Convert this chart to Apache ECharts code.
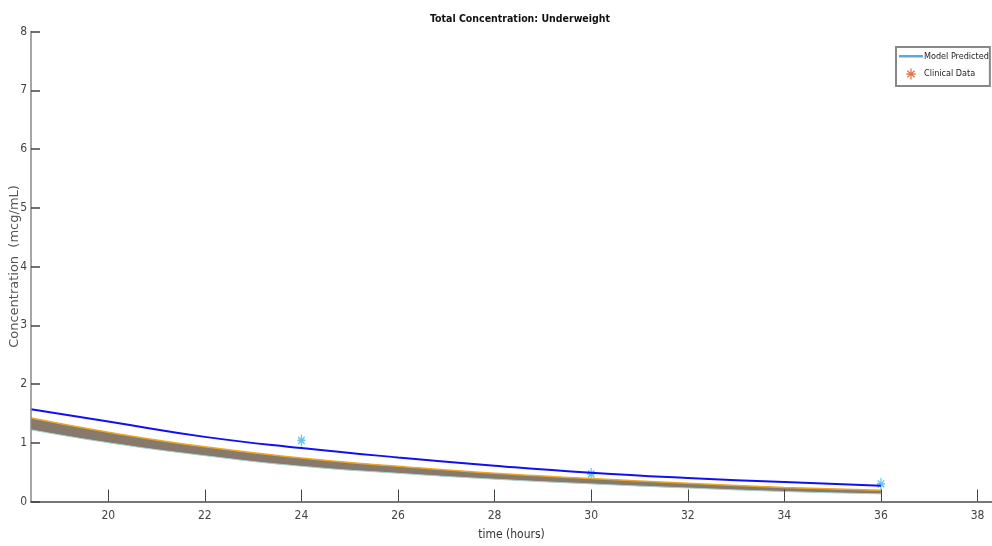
<!DOCTYPE html>
<html>
<head>
<meta charset="utf-8">
<script src="https://cdn.jsdelivr.net/npm/echarts@6/dist/echarts.min.js"></script>
<style>
  html, body { margin: 0; padding: 0; background: #fff; }
  #chart { width: 992px; height: 546px; }
</style>
</head>
<body>
<div id="chart"></div>
<script>
// time points (hours) for the model curves
const timeHours = [18.4, 20, 22, 24, 26, 28, 30, 32, 34, 36];
// blue model prediction line
const modelPredicted = [1.57, 1.36, 1.10, 0.91, 0.75, 0.61, 0.49, 0.40, 0.33, 0.27];
// the thick multicoloured band of simulated curves (upper / lower edge)
const bandHigh = [1.42, 1.18, 0.93, 0.74, 0.60, 0.48, 0.39, 0.31, 0.24, 0.19];
const bandLow = [1.22, 1.00, 0.78, 0.60, 0.48, 0.38, 0.30, 0.23, 0.17, 0.13];
// clinical measurements
const clinicalTime = [24, 30, 36];
const clinicalConc = [1.04, 0.47, 0.30];
// tick labels
const xTicks = [20, 22, 24, 26, 28, 30, 32, 34, 36, 38];

const pair = (xs, ys) => xs.map((x, i) => [x, ys[i]]);
const asterisk = "path://M5,0L5,12M0,6L10,6M1,2.5L9,9.5M9,2.5L1,9.5";
const lineIcon = "path://M0,0M0,4L24,4L24,6.5L0,6.5ZM24,11";
const narrow = "DejaVu Sans Condensed";

const chart = echarts.init(document.getElementById("chart"));
chart.setOption({
  animation: false,
  title: {
    text: "Total Concentration: Underweight",
    left: 515, top: 9, textAlign: "center",
    textStyle: { fontFamily: narrow, fontWeight: "bold", fontSize: 10.5, color: "#111" }
  },
  legend: {
    orient: "vertical",
    left: 896, top: 47,
    padding: [4, 1, 4, 3],
    itemGap: 4,
    itemWidth: 24, itemHeight: 11,
    borderColor: "#888", borderWidth: 2,
    textStyle: { fontFamily: narrow, fontSize: 9, color: "#222", padding: [0, 0, 0, -4] },
    data: [
      { name: "Model Predicted", icon: lineIcon, itemStyle: { color: "#5aa8de" } },
      { name: "Clinical Data", icon: asterisk,
        itemStyle: { color: "none", borderColor: "#e8501e", borderWidth: 1.3 } }
    ]
  },
  grid: { left: 31, right: 0, top: 31.5, bottom: 44.5, outerBoundsMode: "none" },
  xAxis: {
    type: "value", min: 18.4, max: 38.3, z: 10,
    name: "time (hours)", nameLocation: "middle", nameGap: 27, nameMoveOverlap: false,
    nameTextStyle: { fontFamily: narrow, fontSize: 12, color: "#333" },
    axisLine: { lineStyle: { color: "#777", width: 2 } },
    axisTick: { inside: true, length: 12, customValues: xTicks, lineStyle: { color: "#444", width: 1 } },
    axisLabel: { customValues: xTicks, fontFamily: narrow, fontSize: 12, color: "#444", margin: 8 },
    splitLine: { show: false }
  },
  yAxis: {
    type: "value", min: 0, max: 8, interval: 1, z: 10,
    name: "Concentration  (mcg/mL)", nameLocation: "middle", nameGap: 10, nameMoveOverlap: false,
    nameTextStyle: { fontFamily: "DejaVu Sans", fontSize: 13, color: "#555" },
    axisLine: { show: true, lineStyle: { color: "#888", width: 1.5 } },
    axisTick: { show: true, inside: true, length: 9, lineStyle: { color: "#444", width: 1.5 } },
    axisLabel: { fontFamily: narrow, fontSize: 12, color: "#444", margin: 4 },
    splitLine: { show: false }
  },
  series: [
    {
      name: "bandTop", type: "line", symbol: "none", silent: true, smooth: true,
      data: pair(timeHours, bandHigh),
      lineStyle: { color: "#eaa624", width: 1.5 },
      areaStyle: { color: "#87796c", opacity: 1 }
    },
    {
      name: "bandBottom", type: "line", symbol: "none", silent: true, smooth: true,
      data: pair(timeHours, bandLow),
      lineStyle: { color: "#a9d4cf", width: 1 },
      areaStyle: { color: "#ffffff", opacity: 1 }
    },
    {
      name: "Model Predicted", type: "line", symbol: "none", smooth: true,
      data: pair(timeHours, modelPredicted),
      lineStyle: { color: "#1010f0", width: 2 }
    },
    {
      name: "Clinical Data", type: "scatter", symbol: asterisk, symbolSize: [8, 12],
      data: pair(clinicalTime, clinicalConc),
      itemStyle: { color: "none", borderColor: "#3fb8ee", borderWidth: 1.5 }
    }
  ]
});
</script>
</body>
</html>
